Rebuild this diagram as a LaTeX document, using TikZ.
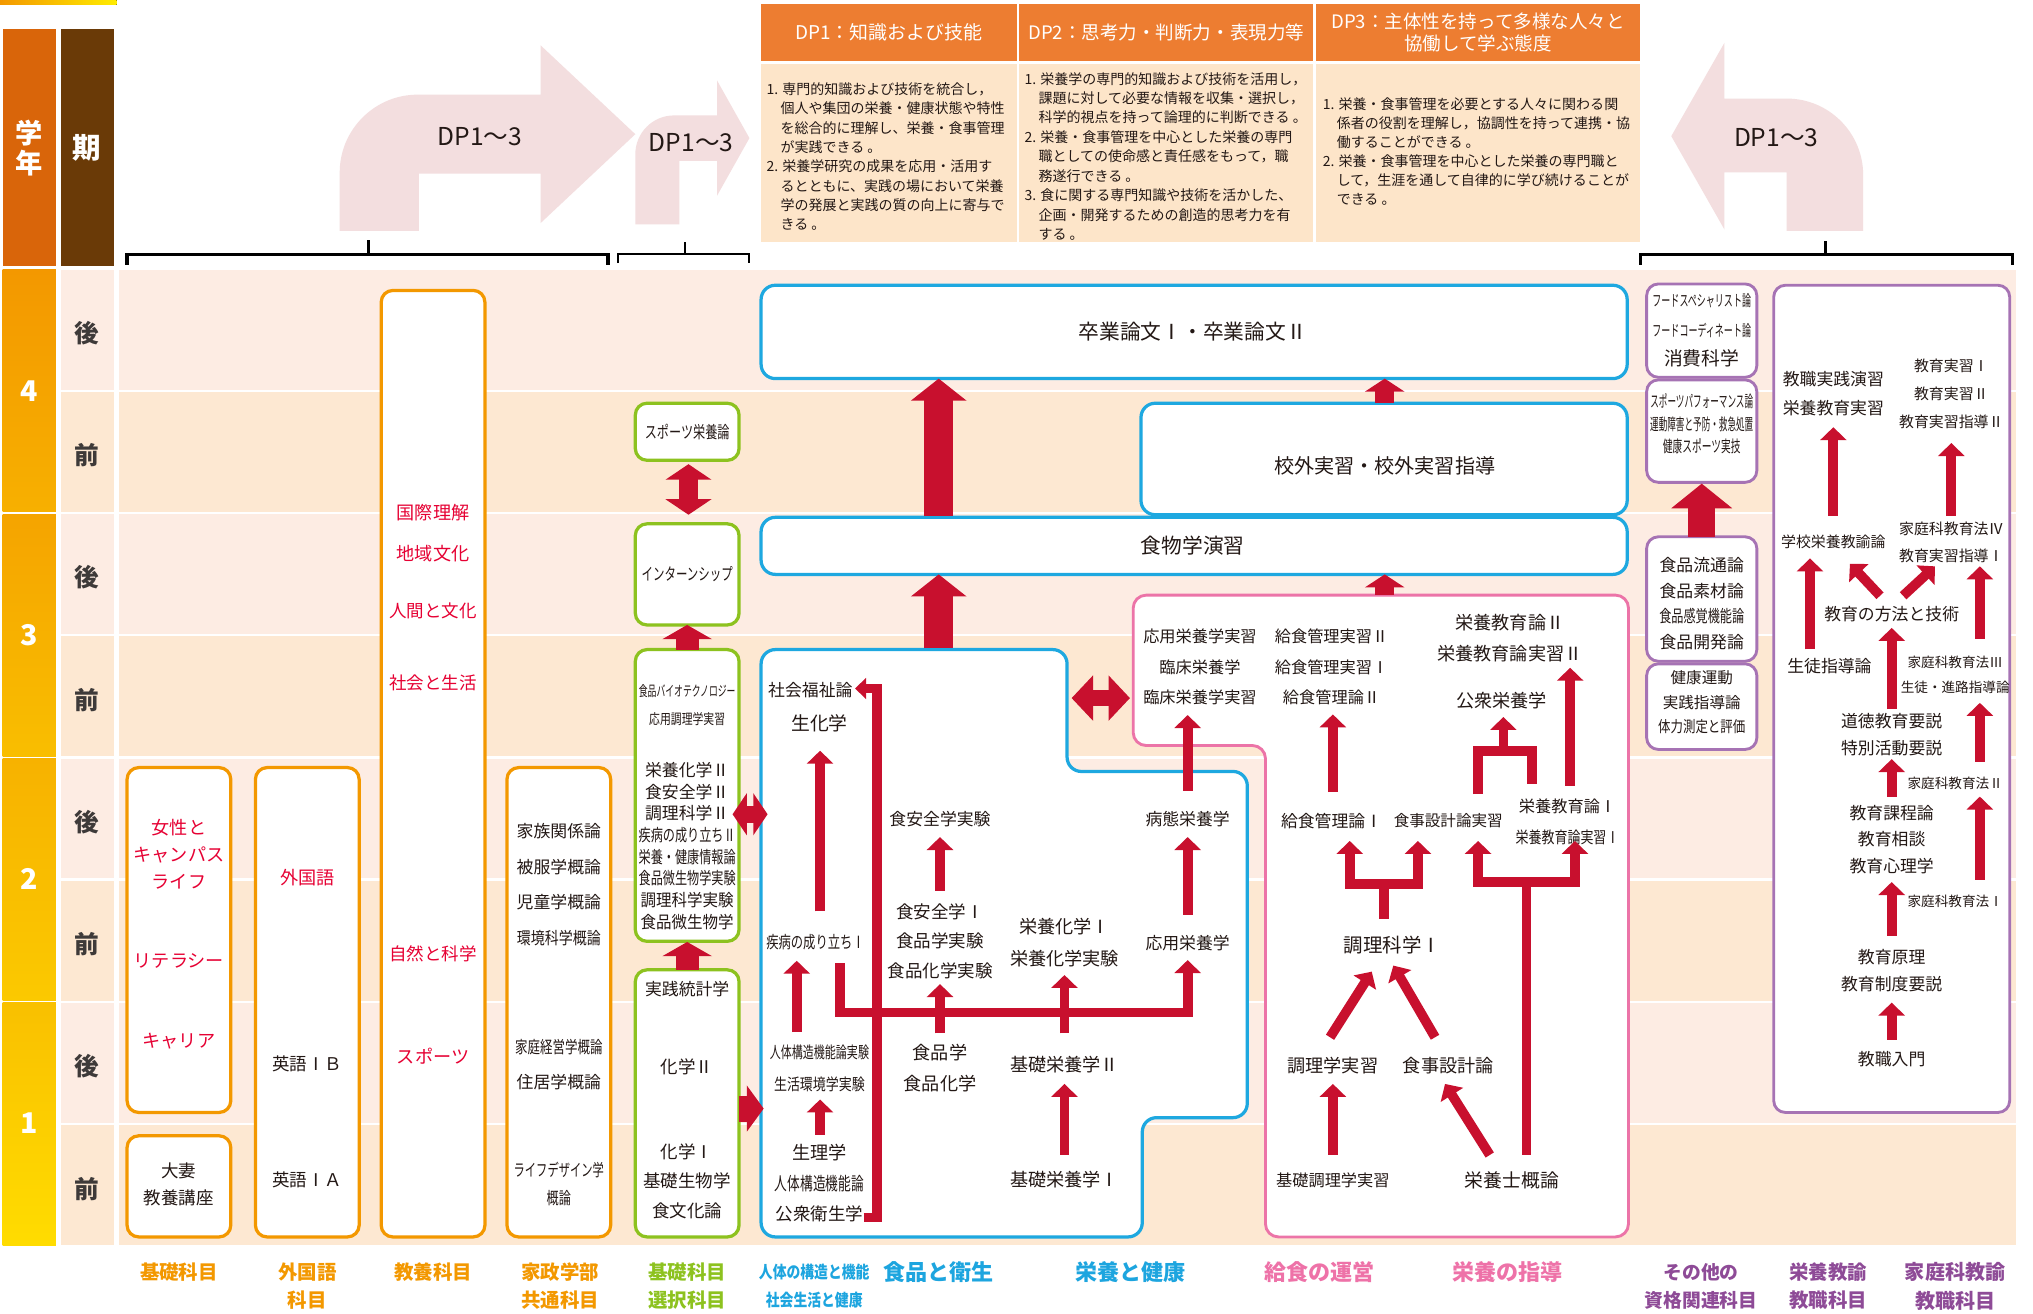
\documentclass[tikz,border=0pt]{standalone}
\usepackage{fontspec}
\setmainfont{Noto Sans CJK JP}
\setsansfont{Noto Sans CJK JP}
\usepackage{graphicx}
\usetikzlibrary{arrows.meta}
\definecolor{ared}{HTML}{C8102E}
\definecolor{cor}{HTML}{F39800}
\definecolor{cgr}{HTML}{8DC21F}
\definecolor{cbl}{HTML}{1EA8E0}
\definecolor{cpk}{HTML}{EC74A8}
\definecolor{cvi}{HTML}{A673B4}
\definecolor{cred}{HTML}{E60033}
\definecolor{ctx}{HTML}{231815}
\definecolor{rowA}{HTML}{FDECE3}
\definecolor{rowB}{HTML}{FDE8D2}
\definecolor{dph}{HTML}{ED7D31}
\definecolor{dpb}{HTML}{FDE5C9}
\definecolor{dparr}{HTML}{F3DEDF}
\definecolor{labor}{HTML}{F39800}
\definecolor{labgr}{HTML}{8DC21F}
\definecolor{labbl}{HTML}{1DA5DF}
\definecolor{labpk}{HTML}{EE72A8}
\definecolor{labvi}{HTML}{8E4B97}
\definecolor{hdy}{HTML}{D9650A}
\definecolor{hdk}{HTML}{6A3A07}
\definecolor{semc}{HTML}{3E3A39}
\definecolor{yfa}{HTML}{F39800}\definecolor{yfb}{HTML}{F7B000}
\definecolor{yta}{HTML}{F5A400}\definecolor{ytb}{HTML}{F9BE00}
\definecolor{ysa}{HTML}{F7B200}\definecolor{ysb}{HTML}{FBC900}
\definecolor{yoa}{HTML}{F9C000}\definecolor{yob}{HTML}{FFDC00}
\newcommand\fs[2]{\fontsize{#1}{#2}\selectfont}
\newcommand\hsq[2]{\scalebox{#1}[1]{#2}}
\newcommand\dpind{\hspace*{1em}}
\newcommand\connarrow[4]{\coordinate (#1s) at (#3);\coordinate (#1e) at (#4);\draw[#2] (#1s) -- (#1e);}
\begin{document}
\begin{tikzpicture}[x=1pt,y=-1pt,
 tx/.style={inner sep=0pt,align=center,text=ctx},
 rtx/.style={inner sep=0pt,align=center,text=cred},
 lab/.style={inner sep=0pt,align=center},
 ob/.style={draw=cor,line width=2.5pt,rounded corners=9pt,fill=white,inner sep=0pt},
 gb/.style={draw=cgr,line width=2.5pt,rounded corners=9pt,fill=white,inner sep=0pt},
 bb/.style={draw=cbl,line width=2.5pt,rounded corners=11pt,fill=white,inner sep=0pt},
 vb/.style={draw=cvi,line width=2.2pt,rounded corners=9pt,fill=white,inner sep=0pt},
 ra/.style={draw=ared,line width=7.5pt,line join=miter,-{Triangle[width=20pt,length=10pt]}},
 ras/.style={draw=ared,line width=7.5pt,line join=miter,-{Triangle[width=16pt,length=8.5pt]}},
 rl/.style={draw=ared,line width=7.5pt,line join=miter},
 fatarr/.style n args={3}{draw=ared,line width=#1,-{Triangle[width=#2,length=#3]}},
 dblarr/.style n args={3}{draw=ared,line width=#1,{Triangle[width=#2,length=#3]}-{Triangle[width=#2,length=#3]}},
]
\useasboundingbox (0,0) rectangle (1568,1013);
\fill[white] (0,0) rectangle (1568,1013);
\fill[left color=cor,right color=yellow!85!orange] (0,0) rectangle (90,3.5);

% ---------- left headers ----------
\node[fill=hdy,minimum width=41pt,minimum height=183pt,inner sep=0pt,text=white,align=center,font=\fs{21}{23}\bfseries] (gakunen) at (22.5,114) {学\\年};
\node[fill=hdk,minimum width=41pt,minimum height=183pt,inner sep=0pt,text=white,font=\fs{22}{22}\bfseries] (kiki) at (67.3,114) {期};

% ---------- rows ----------
\foreach \i in {0,2,4,6}{
  \fill[rowA] (46.7,{208+94.25*\i}) rectangle (88,{300.5+94.25*\i});
  \fill[rowA] (92,{208+94.25*\i}) rectangle (1555,{300.5+94.25*\i});
}
\foreach \i in {1,3,5,7}{
  \fill[rowB] (46.7,{208+94.25*\i}) rectangle (88,{300.5+94.25*\i});
  \fill[rowB] (92,{208+94.25*\i}) rectangle (1555,{300.5+94.25*\i});
}
\foreach \i/\s in {0/後,1/前,2/後,3/前,4/後,5/前,6/後,7/前}{
  \node[inner sep=0pt,font=\fs{19}{19}\bfseries,text=semc] (sem\i) at (67.3,{257+94.25*\i}) {\s};
}
\node[minimum width=41pt,minimum height=186.75pt,inner sep=0pt,top color=yfa,bottom color=yfb,text=white,font=\fs{22}{22}\bfseries] (yr4) at (22.5,301.4) {4};
\node[minimum width=41pt,minimum height=186.75pt,inner sep=0pt,top color=yta,bottom color=ytb,text=white,font=\fs{22}{22}\bfseries] (yr3) at (22.5,489.9) {3};
\node[minimum width=41pt,minimum height=186.75pt,inner sep=0pt,top color=ysa,bottom color=ysb,text=white,font=\fs{22}{22}\bfseries] (yr2) at (22.5,678.1) {2};
\node[minimum width=41pt,minimum height=187.25pt,inner sep=0pt,top color=yoa,bottom color=yob,text=white,font=\fs{22}{22}\bfseries] (yr1) at (22.5,866.6) {1};

% ---------- DP arrows ----------
\fill[dparr] (262,178) -- (262,133) .. controls (262,100) and (289,73) .. (322,73) -- (417,73) -- (417,35) -- (490,103.5) -- (417,172) -- (417,134) -- (323,134) -- (323,178) -- cycle;
\node[inner sep=0pt,text=ctx,font=\fs{19}{19}] (dparrowA) at (370,105) {DP1～3};
\fill[dparr] (490,173) -- (490,119) .. controls (490,102.4) and (503.4,89) .. (520,89) -- (553,89) -- (553,62) -- (578,106.5) -- (553,151) -- (553,124) -- (524,124) -- (524,173) -- cycle;
\node[inner sep=0pt,text=ctx,font=\fs{19}{19}] (dparrowB) at (533,110) {DP1～3};
\fill[dparr] (1437,178) -- (1437,135) .. controls (1437,102.4) and (1410.6,76) .. (1378,76) -- (1330,76) -- (1330,33) -- (1289,105) -- (1330,177) -- (1330,133) -- (1378,133) -- (1378,178) -- cycle;
\node[inner sep=0pt,text=ctx,font=\fs{19}{19}] (dparrowC) at (1370,106) {DP1～3};

% braces
\draw[line width=2.5pt] (98,204) -- (98,196) -- (469,196) -- (469,204);
\draw[line width=2.5pt] (284,196) -- (284,185);
\draw[line width=1.5pt] (477,203) -- (477,196) -- (578,196) -- (578,203);
\draw[line width=1.5pt] (528,196) -- (528,187);
\draw[line width=2.5pt] (1265,204) -- (1265,196) -- (1552,196) -- (1552,204);
\draw[line width=2.5pt] (1408,196) -- (1408,186);

% ---------- DP table ----------
\node[fill=dph,minimum width=197pt,minimum height=44pt,inner sep=0pt,text=white,font=\fs{14.6}{17}] (dp1h) at (685.5,25) {DP1：知識および技能};
\node[fill=dph,minimum width=227pt,minimum height=44pt,inner sep=0pt,text=white,font=\fs{14.3}{17}] (dp2h) at (899.5,25) {DP2：思考力・判断力・表現力等};
\node[fill=dph,minimum width=250pt,minimum height=44pt,inner sep=0pt,text=white,align=center,font=\fs{14.3}{17.5}] (dp3h) at (1140,25) {DP3：主体性を持って多様な人々と\\協働して学ぶ態度};
\node[fill=dpb,minimum width=197pt,minimum height=138pt,inner sep=0pt] (dp1b) at (685.5,118) {};
\node[fill=dpb,minimum width=227pt,minimum height=138pt,inner sep=0pt] (dp2b) at (899.5,118) {};
\node[fill=dpb,minimum width=250pt,minimum height=138pt,inner sep=0pt] (dp3b) at (1140,118) {};
\node[anchor=north west,inner sep=0pt,align=left,text=ctx,font=\fs{10.8}{14.9}] (dp1t) at (591,63.5) {1. 専門的知識および技術を統合し，\\\dpind 個人や集団の栄養・健康状態や特性\\\dpind を総合的に理解し、栄養・食事管理\\\dpind が実践できる 。\\2. 栄養学研究の成果を応用・活用す\\\dpind るとともに、実践の場において栄養\\\dpind 学の発展と実践の質の向上に寄与で\\\dpind きる 。};
\node[anchor=north west,inner sep=0pt,align=left,text=ctx,font=\fs{10.8}{15}] (dp2t) at (790,55.5) {1. 栄養学の専門的知識および技術を活用し，\\\dpind 課題に対して必要な情報を収集・選択し，\\\dpind 科学的視点を持って論理的に判断できる 。\\2. 栄養・食事管理を中心とした栄養の専門\\\dpind 職としての使命感と責任感をもって，職\\\dpind 務遂行できる 。\\3. 食に関する専門知識や技術を活かした、\\\dpind 企画・開発するための創造的思考力を有\\\dpind する 。};
\node[anchor=north west,inner sep=0pt,align=left,text=ctx,font=\fs{10.8}{14.6}] (dp3t) at (1020,75.5) {1. 栄養・食事管理を必要とする人々に関わる関\\\dpind 係者の役割を理解し，協調性を持って連携・協\\\dpind 働することができる 。\\2. 栄養・食事管理を中心とした栄養の専門職と\\\dpind して，生涯を通して自律的に学び続けることが\\\dpind できる 。};

% ---------- orange columns ----------
\node[ob,minimum width=80pt,minimum height=266pt] (kiso1) at (138,725) {};
\node[ob,minimum width=80pt,minimum height=78pt] (kiso2) at (138,915) {};
\node[ob,minimum width=80pt,minimum height=362pt] (gaikoku) at (237,773) {};
\node[ob,minimum width=80pt,minimum height=730pt] (kyoyo) at (334,589) {};
\node[ob,minimum width=80pt,minimum height=362pt] (kasei) at (431,773) {};

\node[rtx,font=\fs{14}{20.8}] (josei) at (138,658.5) {女性と\\キャンパス\\ライフ};
\node[rtx,font=\fs{14}{14}] (literacy) at (138,741) {リテラシー};
\node[rtx,font=\fs{14}{14}] (career) at (138,803) {キャリア};
\node[tx,font=\fs{13.5}{21}] (otsuma) at (138,913.2) {大妻\\教養講座};
\node[rtx,font=\fs{14}{14}] (gaikokugo) at (237,676.5) {外国語};
\node[tx,font=\fs{13.5}{13.5}] (eigoB) at (237,820.6) {英語ⅠＢ};
\node[tx,font=\fs{13.5}{13.5}] (eigoA) at (237,910) {英語ⅠＡ};
\node[rtx,font=\fs{14}{14}] (ky1) at (334,395.3) {国際理解};
\node[rtx,font=\fs{14}{14}] (ky2) at (334,426.6) {地域文化};
\node[rtx,font=\fs{13.5}{14}] (ky3) at (334,471.4) {人間と文化};
\node[rtx,font=\fs{13.5}{14}] (ky4) at (334,526.8) {社会と生活};
\node[rtx,font=\fs{13.5}{14}] (ky5) at (334,735.6) {自然と科学};
\node[rtx,font=\fs{14}{14}] (ky6) at (334,814.6) {スポーツ};
\node[tx,font=\fs{13}{27.5}] (kaseiA) at (431,682.2) {家族関係論\\被服学概論\\児童学概論\\\hsq{0.83}{環境科学概論}};
\node[tx,font=\fs{13}{27}] (kaseiB) at (431,821) {\hsq{0.74}{家庭経営学概論}\\住居学概論};
\node[tx,font=\fs{13}{21}] (kaseiC) at (431,913.2) {\hsq{0.67}{ライフデザイン学}\\\hsq{0.72}{概論}};

% ---------- green column ----------
\node[gb,minimum width=80pt,minimum height=44pt] (gsport) at (530,333) {};
\node[gb,minimum width=80pt,minimum height=78pt] (gintern) at (530,443) {};
\node[gb,minimum width=80pt,minimum height=225pt] (gbig) at (530,613.5) {};
\node[gb,minimum width=80pt,minimum height=206pt] (gbot) at (530,851) {};
\node[tx,font=\fs{13}{13}] (sporttx) at (530,333) {\hsq{0.72}{スポーツ栄養論}};
\node[tx,font=\fs{13}{13}] (interntx) at (530,443) {\hsq{0.68}{インターンシップ}};
\node[tx,font=\fs{11}{22}] (biotx) at (530,544) {\hsq{0.62}{食品バイオテクノロジー}\\\hsq{0.76}{応用調理学実習}};
\node[tx,font=\fs{13}{16.7}] (gmidtx) at (530,652.5) {栄養化学Ⅱ\\食安全学Ⅱ\\調理科学Ⅱ\\\hsq{0.72}{疾病の成り立ちⅡ}\\\hsq{0.72}{栄養・健康情報論}\\\hsq{0.72}{食品微生物学実験}\\\hsq{0.92}{調理科学実験}\\\hsq{0.92}{食品微生物学}};
\node[tx,font=\fs{13}{13}] (jissen) at (530,763) {実践統計学};
\node[tx,font=\fs{13.5}{13.5}] (kagaku2) at (530,823) {化学Ⅱ};
\node[tx,font=\fs{13.5}{23}] (kagaku1) at (530,911) {化学Ⅰ\\基礎生物学\\食文化論};

% ---------- blue / pink areas ----------
\node[bb,minimum width=668pt,minimum height=72pt] (sotsu) at (921,256) {};
\node[bb,minimum width=375pt,minimum height=86pt] (kogai) at (1067.5,354) {};
\node[bb,minimum width=668pt,minimum height=44pt] (shokumotsu) at (921,421) {};
\node[tx,font=\fs{16}{16}] (sotsutx) at (920,256) {卒業論文Ⅰ・卒業論文Ⅱ};
\node[tx,font=\fs{15.5}{15.5}] (kogaitx) at (1068,359) {校外実習・校外実習指導};
\node[tx,font=\fs{16}{16}] (shokutx) at (920,421) {食物学演習};

\draw[draw=cbl,line width=2.5pt,fill=white,rounded corners=11pt] (700,954) -- (587,954) -- (587,501) -- (823,501) -- (823,595) -- (962,595) -- (962,862) -- (881,862) -- (881,954) -- cycle;
\draw[draw=cpk,line width=2.2pt,fill=white,rounded corners=10pt] (1100,954) -- (976,954) -- (976,575) -- (874,575) -- (874,459) -- (1256,459) -- (1256,954) -- cycle;

% ---------- purple ----------
\node[vb,minimum width=85pt,minimum height=72pt] (oq1) at (1312.5,255) {};
\node[vb,minimum width=85pt,minimum height=79pt] (oq2) at (1312.5,332.5) {};
\node[vb,minimum width=85pt,minimum height=96pt] (oq3) at (1312.5,462) {};
\node[vb,minimum width=85pt,minimum height=66pt] (oq4) at (1312.5,545) {};
\node[vb,minimum width=182pt,minimum height=638pt] (tbox) at (1459,539) {};

% ---------- text in blue area ----------
\node[tx,font=\fs{13}{13}] (fukushi) at (625,532) {社会福祉論};
\node[tx,font=\fs{14.5}{14.5}] (seika) at (632,558) {生化学};
\node[tx,font=\fs{13}{13}] (shippei) at (629,727) {\hsq{0.73}{疾病の成り立ちⅠ}};
\node[tx,font=\fs{12.5}{24}] (jintaiJ) at (632,824) {\hsq{0.68}{人体構造機能論実験}\\\hsq{0.8}{生活環境学実験}};
\node[tx,font=\fs{14}{23.5}] (seiri) at (632,912.5) {生理学\\\hsq{0.7}{人体構造機能論}\\\fs{13.5}{23.5}公衆衛生学};
\node[tx,font=\fs{13}{13}] (shokuanJ) at (725,632) {食安全学実験};
\node[tx,font=\fs{13.5}{23}] (shokuan1) at (725,726) {食安全学Ⅰ\\食品学実験\\食品化学実験};
\node[tx,font=\fs{14}{24}] (shokuhin) at (725,824) {食品学\\食品化学};
\node[tx,font=\fs{14}{24}] (eiyokagaku) at (821,727) {栄養化学Ⅰ\\栄養化学実験};
\node[tx,font=\fs{14}{14}] (kiso2e) at (821,821) {基礎栄養学Ⅱ};
\node[tx,font=\fs{14}{14}] (kiso1e) at (821,910) {基礎栄養学Ⅰ};
\node[tx,font=\fs{13}{13}] (byotai) at (916,632) {病態栄養学};
\node[tx,font=\fs{13}{13}] (oyo) at (916,727) {応用栄養学};

% ---------- text in pink area ----------
\node[tx,font=\fs{12.5}{23.5}] (rinsho) at (925.5,514.5) {応用栄養学実習\\臨床栄養学\\臨床栄養学実習};
\node[tx,font=\fs{12.5}{23.5}] (kyushoku2) at (1027,514.5) {給食管理実習Ⅱ\\給食管理実習Ⅰ\\給食管理論Ⅱ};
\node[tx,font=\fs{14}{24}] (kyoiku2) at (1164.6,492) {栄養教育論Ⅱ\\栄養教育論実習Ⅱ};
\node[tx,font=\fs{14}{14}] (koshu) at (1158,540) {公衆栄養学};
\node[tx,font=\fs{13}{13}] (kyushoku1) at (1027,633) {給食管理論Ⅰ};
\node[tx,font=\fs{12}{12}] (shokujiJ) at (1117,633) {食事設計論実習};
\node[tx,font=\fs{12.5}{23.5}] (kyoiku1) at (1209,633.7) {栄養教育論Ⅰ\\\hsq{0.8}{栄養教育論実習Ⅰ}};
\node[tx,font=\fs{15}{15}] (chori1) at (1074,729) {調理科学Ⅰ};
\node[tx,font=\fs{14}{14}] (choriJ) at (1028,822) {調理学実習};
\node[tx,font=\fs{14}{14}] (shokuji) at (1117,822) {食事設計論};
\node[tx,font=\fs{12.5}{12.5}] (kisochori) at (1028,910) {基礎調理学実習};
\node[tx,font=\fs{14.5}{14.5}] (eiyoshi) at (1166,910) {栄養士概論};

% ---------- other qualification texts ----------
\node[tx,font=\fs{12}{23}] (oq1a) at (1312.5,243.5) {\hsq{0.58}{フードスペシャリスト論}\\\hsq{0.58}{フードコーディネート論}};
\node[tx,font=\fs{14.5}{14.5}] (oq1b) at (1312.5,276) {消費科学};
\node[tx,font=\fs{12.5}{17.5}] (oq2t) at (1312.5,327) {\hsq{0.53}{スポーツパフォーマンス論}\\\hsq{0.53}{運動障害と予防・救急処置}\\\hsq{0.6}{健康スポーツ実技}};
\node[tx,font=\fs{13}{19.7}] (oq3t) at (1312.5,465.4) {食品流通論\\食品素材論\\\hsq{0.72}{食品感覚機能論}\\食品開発論};
\node[tx,font=\fs{12}{18.75}] (oq4t) at (1312.5,541.75) {健康運動\\実践指導論\\\hsq{0.8}{体力測定と評価}};

% ---------- teacher box texts ----------
\node[tx,font=\fs{13}{22.7}] (t1) at (1414,303.7) {教職実践演習\\栄養教育実習};
\node[tx,font=\fs{11.5}{21.7}] (t2) at (1505,303.7) {教育実習Ⅰ\\教育実習Ⅱ\\教育実習指導Ⅱ};
\node[tx,font=\fs{11.5}{11.5}] (t3) at (1414,418) {学校栄養教諭論};
\node[tx,font=\fs{11.5}{20.6}] (t4) at (1505,418.3) {家庭科教育法Ⅳ\\教育実習指導Ⅰ};
\node[tx,font=\fs{13}{13}] (t5) at (1459,474) {教育の方法と技術};
\node[tx,font=\fs{13}{13}] (t6) at (1411,514) {生徒指導論};
\node[tx,font=\fs{10.5}{19}] (t7) at (1508,520.5) {家庭科教育法Ⅲ\\生徒・進路指導論};
\node[tx,font=\fs{13}{20.5}] (t8) at (1459,566.8) {道徳教育要説\\特別活動要説};
\node[tx,font=\fs{10.5}{10.5}] (t9) at (1508,604) {家庭科教育法Ⅱ};
\node[tx,font=\fs{13}{20.6}] (t10) at (1459,647.4) {教育課程論\\教育相談\\教育心理学};
\node[tx,font=\fs{10.5}{10.5}] (t11) at (1508,695) {家庭科教育法Ⅰ};
\node[tx,font=\fs{13}{21}] (t12) at (1459,748.5) {教育原理\\教育制度要説};
\node[tx,font=\fs{13}{13}] (t13) at (1459,816.7) {教職入門};

% ---------- arrows ----------
\connarrow{A1}{fatarr={22pt}{42pt}{17pt}}{724,500}{724,443}
\connarrow{A2}{fatarr={22pt}{42pt}{17pt}}{724,398}{724,292}
\connarrow{A3}{fatarr={15pt}{30pt}{10pt}}{1068,459}{1068,443}
\connarrow{A4}{fatarr={15pt}{30pt}{10pt}}{1068,311}{1068,292}
\connarrow{G1}{dblarr={14pt}{35pt}{12pt}}{531,358}{531,397}
\connarrow{G2}{fatarr={18pt}{38pt}{11pt}}{530,501}{530,482}
\connarrow{G3}{fatarr={18pt}{38pt}{11pt}}{530,748}{530,726.5}
\connarrow{G4}{fatarr={20pt}{35pt}{13pt}}{570,855}{589,855}
\connarrow{G5}{dblarr={13pt}{32pt}{11pt}}{565,628}{592,628}
\connarrow{BP}{dblarr={12pt}{34pt}{16.5pt}}{826.5,538.4}{871.5,538.4}
\connarrow{OQ}{fatarr={20.6pt}{46pt}{19pt}}{1312.5,414}{1312.5,373}

% blue area
\coordinate (b1a) at (666,939); \coordinate (b1b) at (676.5,939); \coordinate (b1c) at (676.5,531); \coordinate (b1d) at (659.5,531);
\draw[ras] (b1a) -- (b1b) -- (b1c) -- (b1d);
\coordinate (b2a) at (648,743); \coordinate (b2b) at (648,781); \coordinate (b2c) at (916,781); \coordinate (b2d) at (916,740.5);
\draw[ra] (b2a) -- (b2b) -- (b2c) -- (b2d);
\connarrow{B3}{ra}{725,797}{725,759}
\connarrow{B4}{ra}{821,797}{821,752}
\connarrow{B5}{ra}{614.5,796}{614.5,741}
\connarrow{B6}{ra}{632.5,703}{632.5,579}
\connarrow{B7}{ra}{632.5,875}{632.5,848}
\connarrow{B8}{ra}{725,687}{725,645.6}
\connarrow{B9}{ra}{821,890.6}{821,836}
\connarrow{B10}{ra}{916,705.6}{916,645.6}
\connarrow{B11}{ra}{916,610}{916,551.5}

% pink area
\connarrow{P1}{ra}{1028,611}{1028,551}
\coordinate (p2a) at (1067.5,708.5); \coordinate (p2b) at (1067.5,681.7);
\coordinate (p2l) at (1041,648.6); \coordinate (p2r) at (1093.6,648.6);
\draw[ra] (p2a) -- (p2b) -| (p2l);
\draw[ra] (p2b) -| (p2r);
\coordinate (p3a) at (1177.4,890.8); \coordinate (p3b) at (1177.4,680);
\coordinate (p3l) at (1140,648.6); \coordinate (p3r) at (1214.7,648.6);
\draw[ra] (p3a) -- (p3b) -| (p3l);
\draw[ra] (p3b) -| (p3r);
\coordinate (p4a) at (1140,612.5); \coordinate (p4b) at (1140,579); \coordinate (p4c) at (1181.3,579); \coordinate (p4d) at (1181.3,604.6);
\draw[rl] (p4a) -- (p4b) -- (p4c) -- (p4d);
\connarrow{P4}{ra}{1159.5,579}{1159.5,553}
\connarrow{P5}{ra}{1211,606}{1211,515}
\connarrow{P6}{ra}{1025.8,800}{1058,749.4}
\connarrow{P7}{ra}{1106.8,800}{1074.6,744.7}
\connarrow{P8}{ra}{1028,890.8}{1028,836}
\connarrow{P9}{ra}{1149,890.8}{1114.5,836}

% teacher box
\connarrow{R1}{ra}{1414,397.6}{1414,329.5}
\connarrow{R2}{ra}{1505,397.6}{1505,341.7}
\connarrow{R3}{ra}{1396,500.9}{1396,430.7}
\connarrow{R4}{ra}{1450,459.5}{1426.8,434.8}
\connarrow{R5}{ra}{1467.8,459.5}{1492.4,436.8}
\connarrow{R6}{ra}{1459,547}{1459,484.3}
\connarrow{R7}{ra}{1527,492.6}{1527,436.8}
\connarrow{R8}{ra}{1527,587.5}{1527,542.1}
\connarrow{R9}{ra}{1459,614.4}{1459,585.5}
\connarrow{R10}{ra}{1527,678.4}{1527,614.4}
\connarrow{R11}{ra}{1459,721.7}{1459,680.3}
\connarrow{R12}{ra}{1459,802}{1459,773.3}

% ---------- bottom labels ----------
\node[lab,text=labor,font=\fs{15}{22}\bfseries] (L1) at (138,981) {基礎科目};
\node[lab,text=labor,font=\fs{15}{22}\bfseries] (L2) at (237,992) {外国語\\科目};
\node[lab,text=labor,font=\fs{15}{22}\bfseries] (L3) at (334,981) {教養科目};
\node[lab,text=labor,font=\fs{15}{22}\bfseries] (L4) at (432,992) {家政学部\\共通科目};
\node[lab,text=labgr,font=\fs{15}{22}\bfseries] (L5) at (530,992) {基礎科目\\選択科目};
\node[lab,text=labbl,font=\fs{13}{22}\bfseries] (L6) at (628,992) {\hsq{0.82}{人体の構造と機能}\\\hsq{0.82}{社会生活と健康}};
\node[lab,text=labbl,font=\fs{17}{22}\bfseries] (L7) at (724,981) {食品と衛生};
\node[lab,text=labbl,font=\fs{17}{22}\bfseries] (L8) at (872,981) {栄養と健康};
\node[lab,text=labpk,font=\fs{17}{22}\bfseries] (L9) at (1018,981) {給食の運営};
\node[lab,text=labpk,font=\fs{17}{22}\bfseries] (L10) at (1163,981) {栄養の指導};
\node[lab,text=labvi,font=\fs{14.5}{22}\bfseries] (L11) at (1312,992) {その他の\\資格関連科目};
\node[lab,text=labvi,font=\fs{15}{22}\bfseries] (L12) at (1410,992) {栄養教諭\\教職科目};
\node[lab,text=labvi,font=\fs{15.5}{22}\bfseries] (L13) at (1508,992) {家庭科教諭\\教職科目};
\end{tikzpicture}
\end{document}
